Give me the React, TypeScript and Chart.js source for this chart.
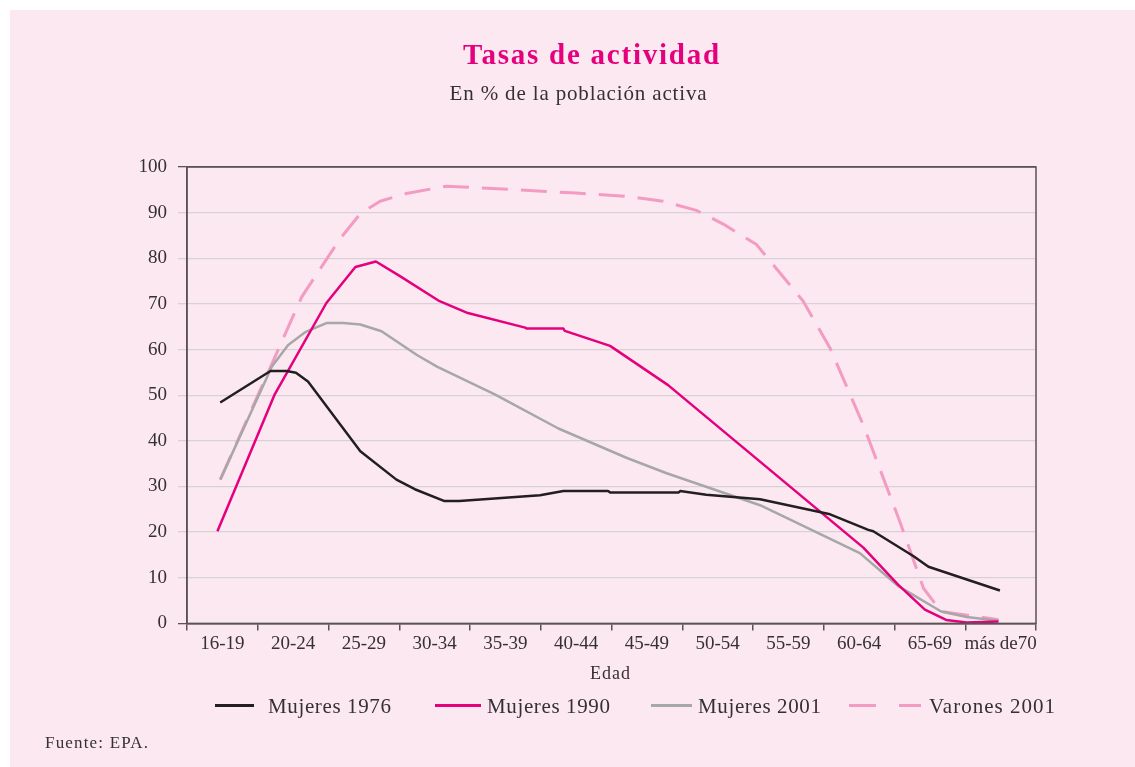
import React, { useEffect, useRef } from "react";
import { Chart, registerables } from "chart.js";

Chart.register(...registerables);

// ---- Data ----
const AGE_GROUPS = ["16-19", "20-24", "25-29", "30-34", "35-39", "40-44", "45-49", "50-54", "55-59", "60-64", "65-69", "más de70"];
const Y_TICKS = [0, 10, 20, 30, 40, 50, 60, 70, 80, 90, 100];

// positions in age-group units (0 = left edge of "16-19", 12 = right edge of "más de70")
const M1976_X = [0.47, 1.18, 1.41, 1.54, 1.71, 2.45, 2.96, 3.22, 3.64, 3.85, 4.99, 5.32, 5.95, 5.98, 6.95, 6.97, 7.34, 8.10, 9.09, 9.63, 9.70, 10.27, 10.48, 11.49];
const M1976_Y = [48.4, 55.3, 55.3, 54.9, 53.0, 37.7, 31.5, 29.4, 26.8, 26.8, 28.1, 29.0, 29.0, 28.7, 28.7, 29.0, 28.2, 27.2, 23.9, 20.5, 20.2, 14.7, 12.4, 7.2];

const M1990_X = [0.43, 1.24, 1.97, 2.38, 2.67, 3.01, 3.57, 3.97, 4.78, 4.80, 5.32, 5.34, 5.98, 6.80, 9.56, 10.05, 10.43, 10.73, 11.02, 11.47];
const M1990_Y = [20.2, 50.2, 70.2, 78.1, 79.3, 76.1, 70.6, 68.0, 64.8, 64.6, 64.6, 64.1, 60.8, 52.2, 16.6, 8.5, 3.0, 0.75, 0.2, 0.4];

const M2001_X = [0.47, 1.20, 1.43, 1.67, 1.97, 2.21, 2.45, 2.75, 3.25, 3.54, 4.35, 5.25, 6.21, 6.78, 8.10, 9.51, 10.06, 10.66, 11.02, 11.47];
const M2001_Y = [31.5, 56.3, 61.0, 63.8, 65.8, 65.8, 65.5, 64.0, 58.8, 56.2, 50.2, 42.7, 36.3, 32.9, 25.9, 15.4, 8.1, 2.6, 1.4, 0.6];

const V2001_X = [0.47, 1.62, 2.16, 2.45, 2.73, 3.10, 3.67, 4.66, 5.50, 6.26, 6.73, 7.20, 7.58, 8.05, 8.71, 9.09, 9.56, 10.08, 10.41, 10.66, 11.47];
const V2001_Y = [31.5, 71.5, 84.2, 89.8, 92.5, 94.2, 95.8, 95.0, 94.3, 93.5, 92.5, 90.5, 87.5, 83.0, 70.6, 60.3, 43.4, 22.1, 7.7, 2.6, 0.8];

const SERIES_NAMES = ["Mujeres 1976", "Mujeres 1990", "Mujeres 2001", "Varones 2001"];

// ---- Styles ----
const PINK_BG = "#fce8f0";
const AXIS = "#5a5256";
const GRID = "#d8d2d6";
const TEXT = "#353033";
const C_BLACK = "#231f20";
const C_MAGENTA = "#e5007e";
const C_GRAY = "#a7a7a7";
const C_PINK = "#f39bc2";
const SERIF = '"Liberation Serif", "DejaVu Serif", serif';

const W = 1135;
const H = 767;

function fitText(ctx: CanvasRenderingContext2D, text: string, x: number, y: number, width: number, align: "left" | "center") {
  (ctx as any).letterSpacing = "0px";
  const m = ctx.measureText(text).width;
  const ls = (width - m) / Math.max(1, text.length - 1);
  (ctx as any).letterSpacing = `${ls.toFixed(2)}px`;
  const drawX = align === "center" ? x - width / 2 : x;
  ctx.textAlign = "left";
  ctx.fillText(text, drawX, y);
  (ctx as any).letterSpacing = "0px";
}

const decorPlugin = {
  id: "decor",
  beforeDraw(chart: any) {
    const ctx = chart.ctx as CanvasRenderingContext2D;
    ctx.save();
    ctx.fillStyle = "#ffffff";
    ctx.fillRect(0, 0, W, H);
    ctx.fillStyle = PINK_BG;
    ctx.fillRect(10, 10, W - 10, H - 10);
    ctx.restore();
  },
  afterDraw(chart: any) {
    const ctx = chart.ctx as CanvasRenderingContext2D;
    const a = chart.chartArea;
    ctx.save();
    // plot frame
    ctx.strokeStyle = AXIS;
    ctx.lineWidth = 1.5;
    ctx.strokeRect(a.left, a.top, a.right - a.left, a.bottom - a.top);

    ctx.textBaseline = "alphabetic";
    // title
    ctx.fillStyle = C_MAGENTA;
    ctx.font = `bold 29px ${SERIF}`;
    fitText(ctx, "Tasas de actividad", 591, 64, 256, "center");
    // subtitle
    ctx.fillStyle = TEXT;
    ctx.font = `21px ${SERIF}`;
    fitText(ctx, "En % de la población activa", 578, 100, 257, "center");
    // x axis title
    ctx.font = `18px ${SERIF}`;
    fitText(ctx, "Edad", 610, 679, 40, "center");

    // legend
    const ly = 705.5;
    const items = [
      { x1: 215, x2: 254, tx: 268, tw: 123, color: C_BLACK, dash: [] as number[] },
      { x1: 435, x2: 481, tx: 487, tw: 123, color: C_MAGENTA, dash: [] as number[] },
      { x1: 651, x2: 692, tx: 698, tw: 123, color: C_GRAY, dash: [] as number[] },
      { x1: 849, x2: 921, tx: 929, tw: 126, color: C_PINK, dash: [27, 23] },
    ];
    items.forEach((it, i) => {
      ctx.strokeStyle = it.color;
      ctx.lineWidth = 3;
      ctx.setLineDash(it.dash);
      ctx.beginPath();
      ctx.moveTo(it.x1, ly);
      ctx.lineTo(it.x2, ly);
      ctx.stroke();
      ctx.setLineDash([]);
      ctx.fillStyle = TEXT;
      ctx.font = `21px ${SERIF}`;
      fitText(ctx, SERIES_NAMES[i], it.tx, 713, it.tw, "left");
    });

    // source
    ctx.fillStyle = TEXT;
    ctx.font = `17px ${SERIF}`;
    fitText(ctx, "Fuente: EPA.", 45, 748, 103, "left");
    ctx.restore();
  },
};

function toPoints(xs: number[], ys: number[]) {
  return xs.map((x, i) => ({ x, y: ys[i] }));
}

export default function App() {
  const ref = useRef<HTMLCanvasElement | null>(null);

  useEffect(() => {
    document.body.style.margin = "0";
    const canvas = ref.current;
    if (!canvas) return;
    const chart = new Chart(canvas, {
      type: "line",
      data: {
        datasets: [
          { label: SERIES_NAMES[0], data: toPoints(M1976_X, M1976_Y), borderColor: C_BLACK, borderWidth: 2.5 },
          { label: SERIES_NAMES[1], data: toPoints(M1990_X, M1990_Y), borderColor: C_MAGENTA, borderWidth: 2.5 },
          { label: SERIES_NAMES[2], data: toPoints(M2001_X, M2001_Y), borderColor: C_GRAY, borderWidth: 2.5 },
          { label: SERIES_NAMES[3], data: toPoints(V2001_X, V2001_Y), borderColor: C_PINK, borderWidth: 3, borderDash: [26, 13] },
        ] as any,
      },
      options: {
        animation: false,
        responsive: false,
        devicePixelRatio: 1,
        elements: { point: { radius: 0, hoverRadius: 0 }, line: { tension: 0, fill: false, borderJoinStyle: "round" } },
        layout: { padding: { left: 0, top: 167, right: 99, bottom: 0 } },
        plugins: { legend: { display: false }, tooltip: { enabled: false }, title: { display: false } },
        scales: {
          x: {
            type: "linear",
            min: 0,
            max: AGE_GROUPS.length,
            afterBuildTicks: (s: any) => {
              const t = [];
              for (let i = 0; i <= AGE_GROUPS.length * 2; i++) t.push({ value: i / 2 });
              s.ticks = t;
            },
            afterFit: (s: any) => {
              s.height = 143.6;
            },
            grid: {
              drawOnChartArea: false,
              drawTicks: true,
              tickLength: 7,
              lineWidth: 1.5,
              color: (c: any) => (c.tick && Number.isInteger(c.tick.value) ? AXIS : "rgba(0,0,0,0)"),
            },
            border: { color: AXIS, width: 1.5 },
            ticks: {
              autoSkip: false,
              maxRotation: 0,
              minRotation: 0,
              padding: 2,
              color: TEXT,
              font: { family: SERIF, size: 19 },
              callback: (v: any) => (Number.isInteger(v) ? "" : AGE_GROUPS[Math.floor(v)]),
            },
          },
          y: {
            type: "linear",
            min: 0,
            max: 100,
            afterBuildTicks: (s: any) => {
              s.ticks = Y_TICKS.map((v) => ({ value: v }));
            },
            afterFit: (s: any) => {
              s.width = 187;
            },
            grid: {
              tickLength: 9,
              lineWidth: 1.3,
              color: (c: any) => (c.tick && (c.tick.value === 0 || c.tick.value === 100) ? AXIS : GRID),
            },
            border: { color: AXIS, width: 1.5 },
            ticks: {
              padding: 11,
              color: TEXT,
              font: { family: SERIF, size: 19 },
            },
          },
        },
      } as any,
      plugins: [decorPlugin],
    });
    return () => chart.destroy();
  }, []);

  return (
    <div style={{ width: W, height: H, position: "relative", background: "#fff" }}>
      <canvas ref={ref} width={W} height={H} style={{ display: "block", width: W, height: H }} />
    </div>
  );
}
